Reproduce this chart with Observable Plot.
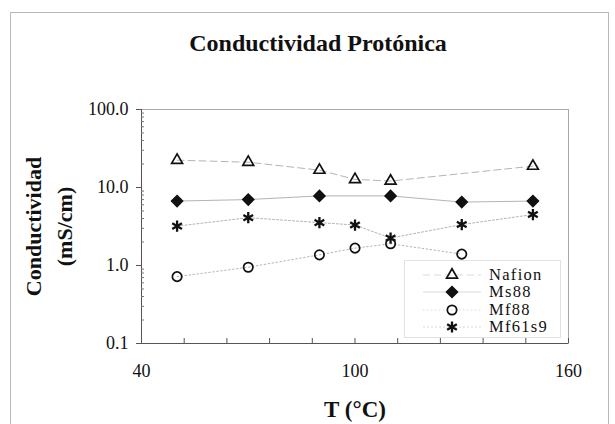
<!DOCTYPE html>
<html>
<head>
<meta charset="utf-8">
<script src="https://cdn.jsdelivr.net/npm/d3@7"></script>
<script src="https://cdn.jsdelivr.net/npm/@observablehq/plot@0.6"></script>
<style>
  body { margin: 0; background: #fff; }
  #wrap { position: relative; width: 615px; height: 424px; overflow: hidden;
          font-family: "Liberation Serif", "Times New Roman", serif; color: #111; }
  #chart { position: absolute; left: 0; top: 0; }
  #border { position: absolute; left: 10px; top: 12px; width: 597px; height: 600px;
            border: 1px solid #b8b8b8; pointer-events: none; }
  #title { position: absolute; left: 0; width: 636px; top: 28px; line-height: 30px;
           text-align: center; font-weight: bold; font-size: 24px; }
  #legend { position: absolute; left: 404px; top: 260px; width: 155px; height: 76px;
            border: 1px solid #e2e2e2; background: #fff; }
  .lrow { position: absolute; left: 0; height: 16px; width: 155px; }
  .lrow svg { position: absolute; left: 0; top: 0; }
  .lrow span { position: absolute; display: block; left: 84px; top: 0; height: 16px; line-height: 16px;
               font-size: 16.5px; letter-spacing: 1.3px; white-space: nowrap; }
</style>
</head>
<body>
<div id="wrap">
  <div id="chart"></div>
  <div id="border"></div>
  <div id="title">Conductividad Protónica</div>
  <div id="legend"></div>
</div>
<script>
// ---- data ----
const seriesNames = ["Nafion", "Ms88", "Mf88", "Mf61s9"];
const nafionT = [50, 70, 90, 100, 110, 150];
const nafionS = [22.4, 21.1, 16.7, 12.7, 12.1, 18.8];
const ms88T = [50, 70, 90, 110, 130, 150];
const ms88S = [6.7, 7.0, 7.8, 7.8, 6.5, 6.7];
const mf88T = [50, 70, 90, 100, 110, 130];
const mf88S = [0.72, 0.95, 1.37, 1.67, 1.90, 1.40];
const mf61s9T = [50, 70, 90, 100, 110, 130, 150];
const mf61s9S = [3.2, 4.1, 3.55, 3.3, 2.25, 3.35, 4.5];

const xDomain = [40, 160];
const yDomain = [0.1, 100];
const xTicks = [40, 52, 64, 76, 88, 100, 112, 124, 136, 148, 160];
const xTickLabels = [40, 100, 160];
const yTickLabels = [0.1, 1, 10, 100];
const yMinorTicks = [];
for (const d of [0.1, 1, 10]) for (let k = 2; k <= 9; k++) yMinorTicks.push(+(d * k).toPrecision(3));

const title = "Conductividad Protónica";
const xLabel = "T (°C)";
const yLabel = "Conductividad\n(mS/cm)";

// ---- styles ----
const styles = {
  Nafion: {symbol: "triangle2", fill: "none", stroke: "#111", dash: "7,4", r: 5.2, sw: 1.7},
  Ms88:   {symbol: "diamond2", fill: "#111", stroke: "#111", dash: null, r: 5, sw: 1.5},
  Mf88:   {symbol: "circle", fill: "none", stroke: "#111", dash: "1.5,2.5", r: 4.7, sw: 1.7},
  Mf61s9: {symbol: "asterisk", fill: "none", stroke: "#111", dash: "2,2", r: 5.3, sw: 2.3}
};
const d3Symbols = {triangle2: d3.symbolTriangle2, diamond2: d3.symbolDiamond2, circle: d3.symbolCircle, asterisk: d3.symbolAsterisk};

const seriesData = {
  Nafion: nafionT.map((t, i) => ({T: t, S: nafionS[i]})),
  Ms88: ms88T.map((t, i) => ({T: t, S: ms88S[i]})),
  Mf88: mf88T.map((t, i) => ({T: t, S: mf88S[i]})),
  Mf61s9: mf61s9T.map((t, i) => ({T: t, S: mf61s9S[i]}))
};

const seriesMarks = [];
for (const name of seriesNames) {
  const st = styles[name];
  seriesMarks.push(Plot.line(seriesData[name], {x: "T", y: "S", stroke: "#b4b4b4", strokeWidth: 1, strokeDasharray: st.dash}));
}
for (const name of seriesNames) {
  const st = styles[name];
  seriesMarks.push(Plot.dot(seriesData[name], {x: "T", y: "S", symbol: () => st.symbol, r: st.r, fill: st.fill, stroke: st.stroke, strokeWidth: st.sw}));
}

const chart = Plot.plot({
  width: 615,
  height: 424,
  marginLeft: 141,
  marginRight: 47,
  marginTop: 109,
  marginBottom: 81,
  style: {background: "transparent", fontFamily: "'Liberation Serif', 'Times New Roman', serif", fontSize: "18px", color: "#111"},
  x: {domain: xDomain, label: null},
  y: {type: "log", domain: yDomain, label: null},
  symbol: {type: "identity"},
  marks: [
    Plot.frame({stroke: "#a8a8a8"}),
    Plot.ruleX(xDomain.slice(0, 1), {stroke: "#555"}),
    Plot.ruleY(yDomain.slice(0, 1), {stroke: "#555"}),
    Plot.axisX(xTicks, {tickSize: -5, tickFormat: () => "", stroke: "#555"}),
    Plot.axisX(xTickLabels, {tickSize: 0, tickPadding: 21, tickFormat: d => String(d), fontSize: 18}),
    Plot.axisY(yTickLabels, {tickSize: 5, tickPadding: 8, tickFormat: d3.format(".1f"), fontSize: 18, stroke: "#555"}),
    Plot.axisY(yMinorTicks, {tickSize: -3, tickFormat: () => "", stroke: "#777"}),
    ...seriesMarks,
    Plot.text([xLabel], {text: d => d, frameAnchor: "bottom", textAnchor: "middle", lineAnchor: "middle", dy: 66, fontSize: 23, fontWeight: "bold"}),
    Plot.text([yLabel], {text: d => d, frameAnchor: "left", textAnchor: "middle", lineAnchor: "middle", rotate: -90, dx: -95, fontSize: 22, fontWeight: "bold", lineHeight: 1.4})
  ]
});
document.getElementById("chart").appendChild(chart);
document.getElementById("title").textContent = title;

// ---- legend (inside plot area) ----
const legend = document.getElementById("legend");
seriesNames.forEach((name, i) => {
  const st = styles[name];
  const row = document.createElement("div");
  row.className = "lrow";
  row.style.top = (6 + i * 17.3) + "px";
  const svg = d3.create("svg").attr("width", 80).attr("height", 16);
  svg.append("line").attr("x1", 18).attr("x2", 76).attr("y1", 8).attr("y2", 8)
    .attr("stroke", "#dadada").attr("stroke-width", 1).attr("stroke-dasharray", st.dash);
  svg.append("path").attr("transform", "translate(47,8)")
    .attr("d", d3.symbol(d3Symbols[st.symbol], Math.PI * st.r * st.r)())
    .attr("fill", st.fill).attr("stroke", st.stroke).attr("stroke-width", st.sw);
  row.appendChild(svg.node());
  const label = document.createElement("span");
  label.textContent = name;
  row.appendChild(label);
  legend.appendChild(row);
});
</script>
</body>
</html>
